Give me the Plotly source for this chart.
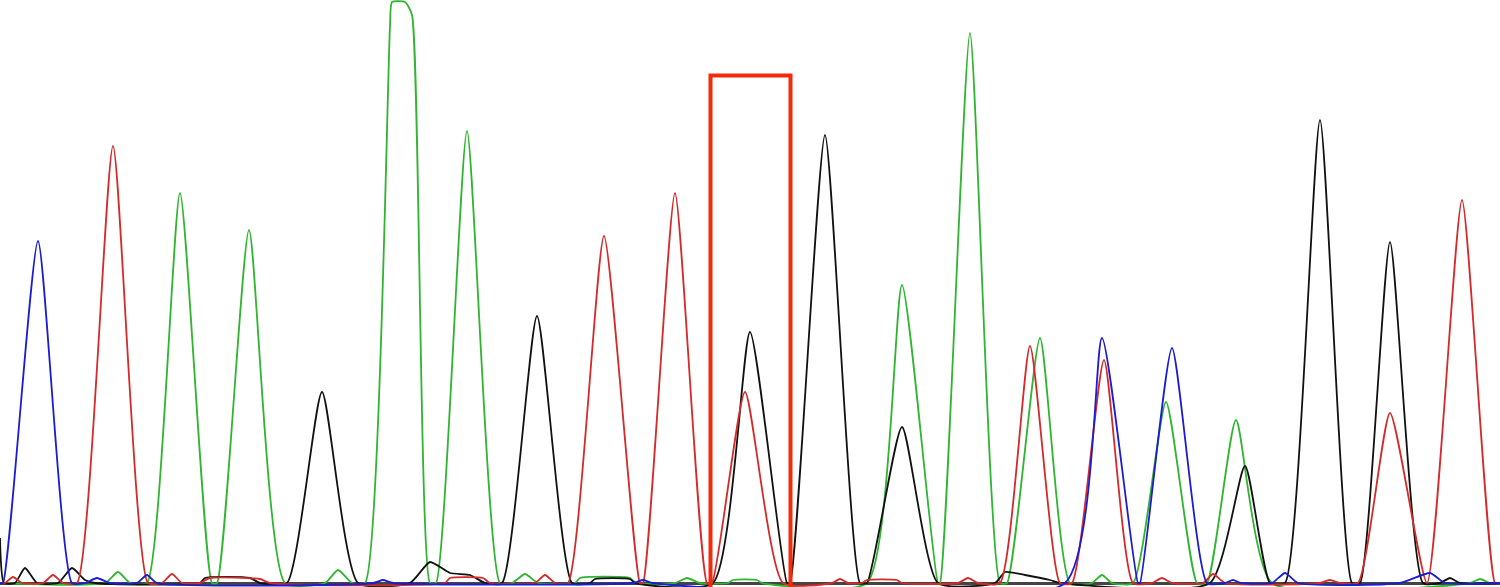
import plotly.graph_objects as go

# Chromatogram traces: scan position vs signal intensity
A_x = [0, 105, 118, 130, 147, 180, 212, 217, 249, 285, 325, 338, 352,
       365, 390, 392, 405, 412, 430, 436, 467, 500, 512, 525, 538,
       575, 580, 630, 636, 675, 687, 700, 728, 733, 757, 762,
       867, 902, 938, 940, 970, 1000, 1007, 1040, 1070, 1092, 1102, 1112,
       1133, 1166, 1197, 1207, 1236, 1272, 1470, 1480, 1490, 1500]
A_y = [0, 0, 11, 0, 0, 390, 0, 0, 353, 0, 0, 13, 0,
       0, 557, 581, 581, 568, 0, 0, 452, 0, 0, 9, 0,
       0, 5, 5, 0, 0, 5, 0, 0, 3, 3, 0,
       0, 298, 0, 0, 550, 0, 0, 245, 0, 0, 8, 0,
       0, 181, 0, 0, 163, 0, 0, 4, 0, 0]

G_x = [0, 4, 15, 25, 37, 58, 72, 85, 95, 200, 205, 250, 260,
       287, 322, 358, 410, 430, 450, 470, 485, 502, 537, 572,
       590, 595, 630, 635, 713, 750, 787, 790, 825, 860,
       867, 902, 938, 995, 1005, 1025, 1050, 1060,
       1210, 1245, 1270, 1285, 1320, 1352, 1360, 1390, 1423,
       1440, 1450, 1460, 1500]
G_y = [45, 0, 0, 15, 0, 0, 15, 3, 0, 0, 5, 5, 0,
       0, 191, 0, 0, 21, 10, 8, 0, 0, 267, 0,
       0, 4, 4, 0, 0, 251, 0, 0, 448, 0,
       0, 156, 0, 0, 11, 8, 3, 0,
       0, 117, 0, 0, 463, 0, 0, 341, 0,
       0, 5, 0, 0]

T_x = [0, 5, 13, 22, 43, 53, 63, 77, 113, 148, 162, 172, 182,
       200, 210, 260, 270, 445, 450, 483, 490, 535, 545, 555,
       568, 604, 640, 643, 675, 707, 712, 745, 783,
       832, 840, 848, 862, 867, 897, 902, 958, 968, 978,
       1000, 1030, 1060, 1072, 1104, 1133, 1152, 1162, 1172,
       1203, 1213, 1225, 1320, 1330, 1340,
       1358, 1390, 1427, 1462, 1495, 1500]
T_y = [0, 0, 6, 0, 0, 8, 0, 0, 437, 0, 0, 9, 0,
       0, 5, 4, 0, 0, 5, 5, 0, 0, 8, 0,
       0, 347, 0, 0, 390, 0, 0, 191, 0,
       0, 4, 0, 0, 3, 3, 0, 0, 5, 0,
       0, 237, 0, 0, 223, 0, 0, 5, 0,
       0, 9, 0, 0, 3, 0,
       0, 170, 0, 383, 0, 0]

C_x = [0, 3, 38, 72, 85, 97, 110, 137, 147, 157, 373, 383, 393,
       633, 643, 653, 1065, 1102, 1138, 1140, 1172, 1207,
       1225, 1233, 1241, 1272, 1285, 1298, 1400, 1430, 1445, 1500]
C_y = [0, 0, 342, 0, 0, 5, 0, 0, 8, 0, 0, 3, 0,
       0, 3, 0, 0, 245, 0, 0, 235, 0,
       0, 3, 0, 0, 10, 0, 0, 10, 0, 0]

channels = [("A", A_x, A_y, "#2fb52f"),
            ("G", G_x, G_y, "#111111"),
            ("T", T_x, T_y, "#d42a2a"),
            ("C", C_x, C_y, "#1c1cd0")]

# highlighted base (scan range and box top)
highlight_x0, highlight_x1, highlight_top = 710.5, 790.5, 507.5

fig = go.Figure()
for name, xs, ys, col in channels:
    fig.add_trace(go.Scatter(x=xs, y=ys, mode="lines", name=name,
                             line=dict(color=col, width=1.8, shape="spline", smoothing=0.55),
                             hoverinfo="skip"))

fig.add_shape(type="rect", xref="x", yref="y",
              x0=highlight_x0, x1=highlight_x1, y0=-20, y1=highlight_top,
              line=dict(color="#f52a0a", width=4), fillcolor="rgba(0,0,0,0)")

fig.update_layout(width=1500, height=587, margin=dict(l=0, r=0, t=0, b=0),
                  paper_bgcolor="white", plot_bgcolor="white", showlegend=False)
fig.update_xaxes(range=[0, 1500], showticklabels=False, ticks="", showline=False,
                 showgrid=False, zeroline=False)
fig.update_yaxes(range=[-4, 583], showticklabels=False, ticks="", showline=False,
                 showgrid=False, zeroline=True, zerolinecolor="#444444",
                 zerolinewidth=2.5, layer="below traces")

fig.write_html("out.html", config={"displayModeBar": False},
               post_script="document.body.style.margin='0';document.body.style.overflow='hidden';")
